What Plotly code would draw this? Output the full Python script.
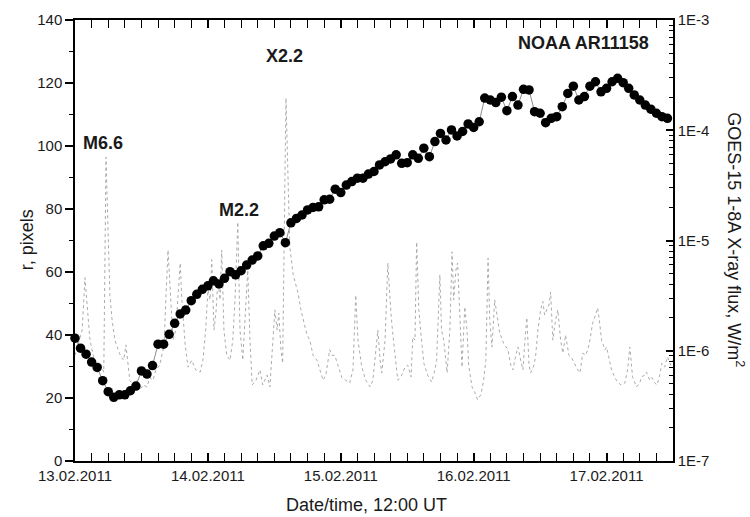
import pandas as pd
import plotly.graph_objects as go

# ---------------- data ----------------
T0 = pd.Timestamp("2011-02-13 12:00")

# hourly radius measurements (hours since 13.02.2011 12:00 UT)
r_hours = list(range(0, 108))
r_pixels = [
    39.0, 35.8, 33.9, 31.4, 29.7, 25.5, 22.0, 20.2, 21.0, 21.0,
    22.3, 23.8, 28.6, 27.6, 30.3, 37.1, 37.1, 40.2, 43.7, 46.7,
    47.9, 50.9, 52.9, 54.5, 55.6, 57.2, 56.2, 58.0, 60.1, 59.1,
    60.4, 62.2, 63.8, 65.1, 68.3, 69.1, 71.4, 72.5, 69.3, 75.6,
    77.0, 78.1, 79.7, 80.5, 80.7, 82.9, 83.1, 86.3, 85.2, 87.6,
    88.7, 89.8, 89.8, 91.1, 91.9, 94.0, 95.0, 95.9, 97.2, 94.5,
    94.7, 97.2, 96.1, 99.3, 96.6, 101.4, 104.0, 101.9, 105.1, 103.2,
    104.6, 107.0, 105.9, 107.7, 115.2, 114.6, 113.8, 115.5, 111.2, 115.7,
    113.0, 118.0, 117.8, 110.9, 110.4, 107.4, 108.8, 109.3, 112.5, 116.7,
    119.0, 114.6, 115.7, 119.0, 120.4, 117.2, 118.3, 120.4, 121.5, 120.1,
    118.3, 116.2, 114.6, 113.0, 111.7, 110.4, 109.3, 108.8,
]

# GOES-15 1-8 A X-ray flux (hours since 13.02.2011 12:00 UT, W/m^2)
flux_hours = [
    0.0, 0.5, 1.3, 1.8, 2.2, 2.7, 3.3, 3.8, 4.5, 5.2, 5.6, 6.0, 6.3, 6.7, 7.2,
    7.8, 8.3, 8.8, 9.2, 9.6, 9.9, 10.5, 11.2, 11.7, 12.3, 13.0, 13.5, 14.1, 14.6,
    15.3, 16.1, 16.4, 16.8, 17.2, 17.7, 18.2, 18.6, 19.0, 19.3, 19.9, 20.4, 21.1,
    21.8, 22.6, 23.1, 23.6, 24.0, 24.4, 24.7, 25.1, 25.5, 25.8, 26.2, 26.5, 26.9,
    27.4, 28.0, 28.5, 28.9, 29.4, 29.8, 30.3, 30.9, 31.2, 31.6, 32.0, 32.7, 33.4,
    33.9, 34.7, 35.2, 35.7, 36.1, 36.5, 36.8, 37.2, 37.5, 38.1, 38.5, 38.8, 39.4,
    39.9, 40.3, 40.8, 41.2, 41.9, 42.4, 43.0, 43.7, 44.2, 44.8, 45.3, 46.0, 46.4,
    46.9, 47.5, 48.2, 48.9, 49.6, 50.2, 50.7, 51.1, 51.8, 52.5, 53.3, 53.8, 54.3,
    54.7, 55.1, 55.4, 56.0, 56.5, 56.9, 57.2, 57.8, 58.3, 59.0, 59.6, 60.1, 60.7,
    61.0, 61.4, 61.7, 62.1, 62.5, 63.0, 63.7, 64.4, 65.0, 65.3, 65.9, 66.2, 66.6,
    67.2, 67.7, 68.1, 68.4, 68.8, 69.1, 69.5, 69.9, 70.4, 70.8, 71.1, 71.7, 72.2,
    72.7, 73.3, 73.8, 74.2, 74.6, 74.9, 75.3, 75.8, 76.2, 76.7, 77.4, 78.2, 78.7,
    79.1, 79.6, 80.0, 80.5, 80.9, 81.2, 81.6, 82.0, 82.3, 82.9, 83.2, 83.6, 84.1,
    84.5, 84.8, 85.2, 85.6, 85.9, 86.3, 86.8, 87.2, 87.7, 88.1, 88.6, 89.2, 89.7,
    90.3, 90.8, 91.2, 91.7, 92.2, 92.6, 93.0, 93.5, 94.0, 94.4, 94.8, 95.1, 95.7,
    96.0, 96.6, 96.9, 97.5, 98.0, 98.6, 99.3, 99.8, 100.2, 100.7, 101.4, 102.0,
    102.3, 102.9, 103.2, 103.8, 104.2, 104.7, 105.1, 105.6, 106.0, 106.5, 107.0,
    107.6, 107.9,
]
flux_values = [
    9.1e-7, 1.13e-6, 1.54e-6, 4.6e-6, 2.35e-6, 1.25e-6, 9.1e-7, 7.4e-7, 7.9e-7, 6.4e-7,
    5.7e-5, 8.2e-6, 3.2e-6, 1.9e-6, 1.25e-6,
    1.02e-6, 8.8e-7, 8.2e-7, 1.13e-6, 7.4e-7, 5.4e-7, 4.9e-7, 5.4e-7, 4.4e-7, 4.9e-7,
    4.7e-7, 5.7e-7, 5.4e-7, 6.7e-7,
    7.4e-7, 1.13e-6, 2.9e-6, 8.2e-6, 3.56e-6, 1.25e-6, 1.54e-6, 2.9e-6, 6.25e-6, 2.9e-6,
    1.13e-6, 7.1e-7, 8.2e-7,
    6.7e-7, 6.4e-7, 8.2e-7, 1.54e-6, 3.56e-6, 2.9e-6, 6.7e-6, 1.54e-6, 2.35e-6, 4.4e-6,
    2.9e-6, 8.2e-6, 1.54e-6,
    9.1e-7, 8.2e-7, 1.25e-6, 2.9e-6, 1.47e-5, 1.54e-6, 8.2e-7, 2.9e-6, 5.4e-6, 1.25e-6,
    4.9e-7, 5.4e-7, 6.7e-7,
    4.9e-7, 6.0e-7, 4.7e-7, 1.25e-6, 2.35e-6, 1.54e-6, 2.2e-6, 1.02e-6, 7.7e-7, 1.96e-4,
    2.33e-5, 8.7e-6, 4.9e-6,
    3.95e-6, 3.3e-6, 2.35e-6, 1.9e-6, 1.39e-6, 1.25e-6, 9.1e-7, 8.2e-7, 6.7e-7, 5.4e-7,
    6.0e-7, 1.02e-6, 9.1e-7,
    9.1e-7, 7.4e-7, 5.7e-7, 5.4e-7, 5.1e-7, 6.7e-7, 3.2e-6, 1.25e-6, 7.1e-7, 5.4e-7,
    4.7e-7, 5.4e-7, 1.02e-6,
    1.54e-6, 8.2e-7, 6.3e-7, 1.25e-6, 6.25e-6, 2.9e-6, 1.8e-6, 9.1e-7, 5.4e-7, 6.0e-7,
    7.1e-7, 7.4e-7, 5.8e-7,
    1.33e-6, 1.25e-6, 9.7e-6, 2.35e-6, 1.39e-6, 7.7e-7, 6.0e-7, 5.2e-7, 6.7e-7, 8.2e-7,
    4.9e-6, 1.54e-6, 1.25e-6,
    6.3e-7, 1.54e-6, 7.9e-6, 2.9e-6, 5.4e-6, 6.25e-6, 1.9e-6, 7.1e-7, 2.5e-6, 1.54e-6,
    7.4e-7, 4.7e-7, 4.2e-7,
    3.6e-7, 4.0e-7, 5.4e-7, 8.2e-7, 6.9e-6, 1.9e-6, 1.08e-6, 2.9e-6, 2.11e-6, 1.45e-6,
    1.17e-6, 1.02e-6, 7.4e-7,
    6.7e-7, 9.1e-7, 1.08e-6, 8.2e-7, 6.7e-7, 1.13e-6, 2.0e-6, 7.4e-7, 6.3e-7, 7.4e-7,
    9.1e-7, 1.54e-6, 2.35e-6,
    2.8e-6, 2.11e-6, 2.35e-6, 2.6e-6, 3.4e-6, 1.25e-6, 1.9e-6, 2.35e-6, 1.25e-6, 9.5e-7,
    1.39e-6, 9.1e-7, 8.6e-7,
    7.4e-7, 6.7e-7, 6.3e-7, 9.5e-7, 9.1e-7, 1.02e-6, 1.25e-6, 1.8e-6, 2.11e-6, 2.45e-6,
    1.71e-6, 1.25e-6, 1.02e-6,
    1.08e-6, 7.9e-7, 6.7e-7, 5.7e-7, 5.2e-7, 4.9e-7, 5.1e-7, 6.7e-7, 1.08e-6, 5.8e-7,
    4.7e-7, 5.1e-7,
    5.8e-7, 6.0e-7, 6.4e-7, 5.4e-7, 5.7e-7, 5.1e-7, 4.9e-7, 6.0e-7, 7.7e-7, 7.1e-7,
    8.8e-7, 7.4e-7, 8.2e-7,
]

x_ticks_labels = ["13.02.2011", "14.02.2011", "15.02.2011", "16.02.2011", "17.02.2011"]
flux_tick_vals = [1e-7, 1e-6, 1e-5, 1e-4, 1e-3]
flux_tick_text = ["1E-7", "1E-6", "1E-5", "1E-4", "1E-3"]

flares = [("M6.6", 5.0, 101.0), ("M2.2", 29.6, 79.7), ("X2.2", 37.9, 128.6)]
region_label = "NOAA AR11158"

# ---------------- figure ----------------
r_time = [T0 + pd.Timedelta(hours=h) for h in r_hours]
f_time = [T0 + pd.Timedelta(hours=h) for h in flux_hours]
tick_times = [T0 + pd.Timedelta(days=i) for i in range(len(x_ticks_labels))]
log_minor = [k * 10.0 ** e for e in range(-7, -3) for k in range(2, 10)]

FONT = "Liberation Sans, Arial, sans-serif"
INK = "#1a1a1a"

fig = go.Figure()
fig.add_trace(go.Scatter(
    x=f_time, y=flux_values, yaxis="y", mode="lines",
    line=dict(color="#ababab", width=1, dash="dot"),
    showlegend=False, hoverinfo="skip",
))
fig.add_trace(go.Scatter(
    x=r_time, y=r_pixels, yaxis="y2", mode="lines+markers",
    line=dict(color="#8c8c8c", width=1),
    marker=dict(color="black", size=9.5, symbol="circle"),
    showlegend=False, cliponaxis=False,
))

fig.update_layout(
    width=750, height=517,
    margin=dict(l=75, r=77, t=20, b=56),
    paper_bgcolor="white", plot_bgcolor="white",
    font=dict(family=FONT, size=15, color=INK),
    xaxis=dict(
        type="date",
        range=[T0, T0 + pd.Timedelta(hours=108)],
        tickmode="array", tickvals=tick_times, ticktext=x_ticks_labels,
        ticks="inside", ticklen=8, tickwidth=1.5, tickcolor="black",
        showline=True, linecolor="black", linewidth=1.5, mirror="allticks",
        showgrid=False, zeroline=False,
        tickfont=dict(size=15),
        minor=dict(tickmode="linear", tick0=T0, dtick=3 * 3600 * 1000,
                   ticks="inside", ticklen=4, tickwidth=1.2, tickcolor="black", showgrid=False),
    ),
    yaxis=dict(
        type="log", range=[-7, -3], side="right",
        tickmode="array", tickvals=flux_tick_vals, ticktext=flux_tick_text,
        ticks="inside", ticklen=7, tickwidth=1.5, tickcolor="black",
        showline=True, linecolor="black", linewidth=1.5,
        showgrid=False, zeroline=False, tickfont=dict(size=15),
        minor=dict(tickmode="array", tickvals=log_minor, ticks="inside", ticklen=4,
                   tickwidth=1, tickcolor="black", showgrid=False),
    ),
    yaxis2=dict(
        overlaying="y", side="left", anchor="x",
        range=[0, 140], tickmode="linear", tick0=0, dtick=20,
        ticks="outside", ticklen=8, tickwidth=1.5, tickcolor="black",
        showline=True, linecolor="black", linewidth=1.5,
        showgrid=False, zeroline=False, tickfont=dict(size=15),
        minor=dict(tickmode="linear", tick0=0, dtick=10, ticks="outside",
                   ticklen=4, tickwidth=1.2, tickcolor="black", showgrid=False),
    ),
)

for name, h, r in flares:
    fig.add_annotation(x=T0 + pd.Timedelta(hours=h), y=r, xref="x", yref="y2",
                       text=f"<b>{name}</b>", showarrow=False,
                       xanchor="center", yanchor="middle",
                       font=dict(size=18, color=INK))
fig.add_annotation(x=T0 + pd.Timedelta(hours=91.9), y=132.7, xref="x", yref="y2",
                   text=f"<b>{region_label}</b>", showarrow=False,
                   xanchor="center", yanchor="middle",
                   font=dict(size=18, color=INK))

# axis titles
fig.add_annotation(x=-0.080, y=0.501, xref="paper", yref="paper", text="r, pixels",
                   textangle=-90, showarrow=False, xanchor="center", yanchor="middle",
                   font=dict(size=18, color=INK))
fig.add_annotation(x=1.105, y=0.501, xref="paper", yref="paper",
                   text="GOES-15 1-8A X-ray flux, W/m<sup>2</sup>",
                   textangle=90, showarrow=False, xanchor="center", yanchor="middle",
                   font=dict(size=18, color=INK))
fig.add_annotation(x=0.487, y=-0.100, xref="paper", yref="paper",
                   text="Date/time, 12:00 UT", showarrow=False,
                   xanchor="center", yanchor="middle",
                   font=dict(size=18, color=INK))

fig.write_html("out.html")
